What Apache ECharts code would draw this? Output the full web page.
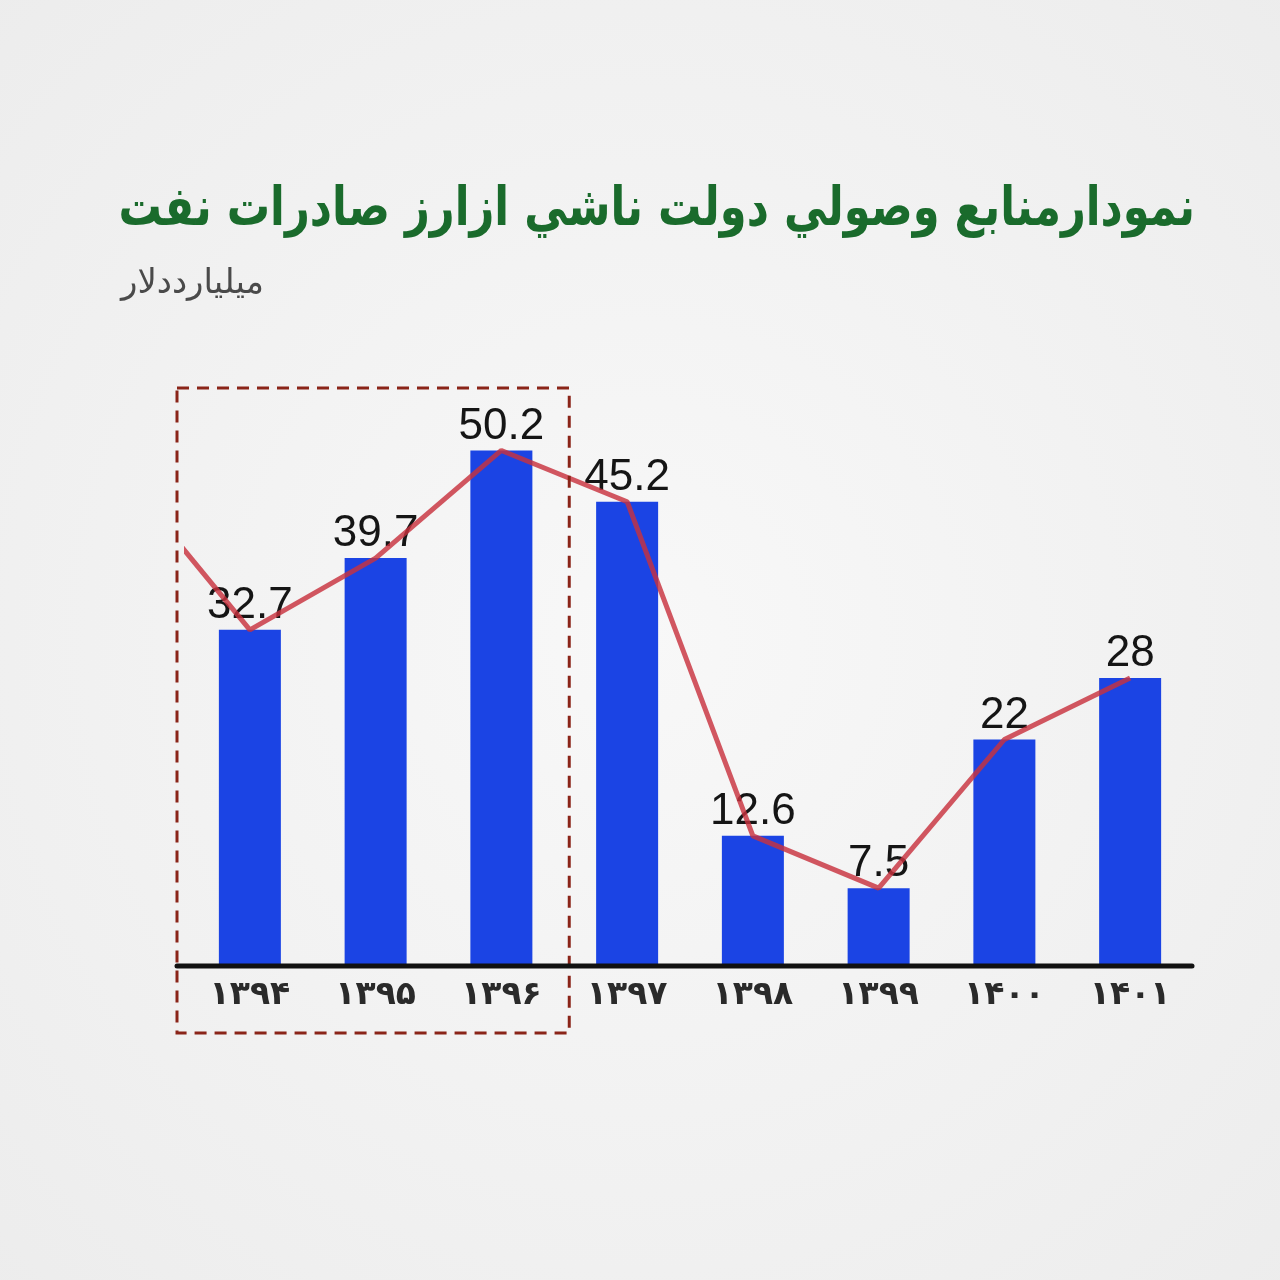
<!DOCTYPE html>
<html>
<head>
<meta charset="utf-8">
<script src="https://cdn.jsdelivr.net/npm/echarts@6/dist/echarts.min.js"></script>
<style>
  html, body { margin: 0; padding: 0; }
  #main { width: 1280px; height: 1280px; }
</style>
</head>
<body>
<div id="main"></div>
<script>
// سال‌ها (محور افقی)
const years = ['۱۳۹۴', '۱۳۹۵', '۱۳۹۶', '۱۳۹۷', '۱۳۹۸', '۱۳۹۹', '۱۴۰۰', '۱۴۰۱'];
// منابع وصولی - میلیارد دلار
const revenue = [32.7, 39.7, 50.2, 45.2, 12.6, 7.5, 22, 28];
// red trend line enters from the left edge before the first year
const leadIn = [-0.59, 41.5];
const highlightYears = ['۱۳۹۴', '۱۳۹۶'];

const chartDom = document.getElementById('main');
const myChart = echarts.init(chartDom);

const lineData = [leadIn].concat(revenue.map((v, i) => [i, v]));

const option = {
    backgroundColor: {
        type: 'radial', x: 0.5, y: 0.5, r: 0.8,
        colorStops: [
            { offset: 0, color: '#f8f8f8' },
            { offset: 1, color: '#ebebeb' }
        ]
    },
    animation: false,
    title: [
        {
            text: 'میلیارددلار',
            left: 116,
            top: 262,
            textStyle: {
                fontFamily: 'DejaVu Sans',
                fontSize: 34,
                fontWeight: 'normal',
                color: '#4a4a4a'
            }
        }
    ],
    grid: { left: 187, right: 87, top: 350, bottom: 315 },
    xAxis: [
        {
            type: 'category',
            data: years,
            axisLine: { show: false },
            axisTick: { show: false },
            axisLabel: {
                margin: 14,
                fontFamily: 'DejaVu Sans',
                fontSize: 33,
                fontWeight: 'bold',
                color: '#2a2a2a'
            }
        },
        {
            type: 'value',
            min: -0.5,
            max: years.length - 0.5,
            show: false
        }
    ],
    yAxis: {
        type: 'value',
        min: 0,
        max: 60,
        show: false,
        splitLine: { show: false }
    },
    series: [
        {
            type: 'bar',
            data: revenue,
            barWidth: 62,
            itemStyle: { color: '#1b44e4' },
            label: {
                show: true,
                position: 'top',
                distance: 2,
                fontFamily: 'Liberation Sans',
                fontSize: 44,
                color: '#151515'
            },
            z: 2
        },
        {
            type: 'line',
            xAxisIndex: 1,
            data: lineData,
            clip: false,
            symbol: 'none',
            lineStyle: { color: 'rgba(200, 50, 62, 0.82)', width: 5 },
            z: 3
        }
    ]
};

myChart.setOption(option);

// title, dashed frame around the first three years and the base line,
// placed from the axis scale
function drawFrame() {
    const p0 = myChart.convertToPixel({ xAxisIndex: 0 }, highlightYears[0]);
    const p1 = myChart.convertToPixel({ xAxisIndex: 0 }, years[1]);
    const p2 = myChart.convertToPixel({ xAxisIndex: 0 }, highlightYears[1]);
    const pLast = myChart.convertToPixel({ xAxisIndex: 0 }, years[years.length - 1]);
    const half = (p1 - p0) / 2;
    const top = myChart.convertToPixel({ yAxisIndex: 0 }, 56.3);
    const base = myChart.convertToPixel({ yAxisIndex: 0 }, 0);
    const x1 = p0 - half - 10;
    const x2 = p2 + half + 5;
    myChart.setOption({
        graphic: [
            {
                // condensed heavy title
                type: 'text',
                x: 1195,
                y: 184,
                scaleX: 0.8,
                scaleY: 1,
                style: {
                    text: 'نمودارمنابع وصولي دولت ناشي ازارز صادرات نفت',
                    font: 'bold 54px "DejaVu Sans"',
                    fill: '#1a6b2c',
                    textAlign: 'right',
                    textVerticalAlign: 'top'
                },
                z: 10
            },
            {
                type: 'rect',
                shape: { x: x1, y: top, width: x2 - x1, height: base + 68 - top },
                style: {
                    fill: 'none',
                    stroke: '#8a2418',
                    lineWidth: 3,
                    lineDash: [12, 8]
                },
                z: 10
            },
            {
                type: 'line',
                shape: { x1: x1, y1: base + 1, x2: pLast + half - 1, y2: base + 1 },
                style: { stroke: '#111', lineWidth: 5, lineCap: 'round' },
                z: 10
            }
        ]
    });
}
drawFrame();

window.addEventListener('resize', function () {
    myChart.resize();
    drawFrame();
});
</script>
</body>
</html>
